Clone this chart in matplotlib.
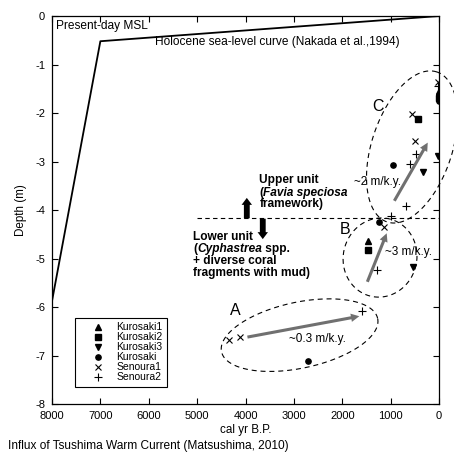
import numpy as np
import matplotlib
matplotlib.use('Agg')
import matplotlib.pyplot as plt

plt.rcParams['font.family'] = ['Liberation Sans', 'DejaVu Sans']

# Holocene sea-level curve (Nakada et al., 1994)
sl_age = [8000, 7000, 0]
sl_depth = [-5.88, -0.52, 0.0]

# samples: (cal yr B.P., depth m)
kurosaki1_age = [1460, 10]
kurosaki1_depth = [-4.64, -1.55]
kurosaki2_age = [428, 1460, 10]
kurosaki2_depth = [-2.12, -4.82, -1.70]
kurosaki3_age = [20, 337, 543]
kurosaki3_depth = [-2.88, -3.21, -5.18]
kurosaki_age = [944, 1233, 2713, 10, 10]
kurosaki_depth = [-3.07, -4.24, -7.11, -1.63, -1.75]
senoura1_age = [4339, 4112, 1130, 550, 496, 20]
senoura1_depth = [-6.67, -6.61, -4.34, -2.03, -2.58, -1.36]
senoura2_age = [1597, 1275, 998, 682, 600, 481, 20]
senoura2_depth = [-6.08, -5.24, -4.12, -3.91, -3.05, -2.85, -1.44]

# uplift-rate arrows: start, end, label, label position
rate_start = [(3960, -6.62), (1481, -5.48), (923, -3.81)]
rate_end = [(1647, -6.19), (1081, -4.48), (233, -2.61)]
rate_label = ['~0.3 m/k.y.', '~3 m/k.y.', '~2 m/k.y.']
rate_label_pos = [(2521, -6.65), (626, -4.86), (1270, -3.42)]

# groups A, B, C: centre, semi-axes (kyr ~ m on screen), tilt
group_name = ['A', 'B', 'C']
group_center = [(2882, -6.58), (1219, -4.98), (558, -2.70)]
group_axes = [(1.65, 0.68), (0.82, 0.76), (1.63, 0.83)]
group_angle = [12, 75, 71.6]
group_label_pos = [(4215, -6.08), (1942, -4.41), (1260, -1.86)]

unit_boundary = -4.17

fig = plt.figure(figsize=(4.54, 4.63), dpi=100)
ax = fig.add_axes([0.1145, 0.1274, 0.8525, 0.838])

ax.plot(sl_age, sl_depth, color='black', lw=1.3)

ms = 4.3
ax.plot(kurosaki1_age, kurosaki1_depth, '^', color='black', ms=ms, label='Kurosaki1')
ax.plot(kurosaki2_age, kurosaki2_depth, 's', color='black', ms=ms - 0.4, label='Kurosaki2')
ax.plot(kurosaki3_age, kurosaki3_depth, 'v', color='black', ms=ms, label='Kurosaki3')
ax.plot(kurosaki_age, kurosaki_depth, 'o', color='black', ms=ms - 0.5, label='Kurosaki')
ax.plot(senoura1_age, senoura1_depth, 'x', color='black', ms=ms, mew=0.8, label='Senoura1')
ax.plot(senoura2_age, senoura2_depth, '+', color='black', ms=ms + 1, mew=0.8, label='Senoura2')

# dashed ellipses around groups
t = np.linspace(0, 2 * np.pi, 200)
for (cx, cy), (a, b), ang, name, (lx, ly) in zip(group_center, group_axes, group_angle,
                                                 group_name, group_label_pos):
    th = np.radians(ang)
    dx = a * np.cos(t) * np.cos(th) - b * np.sin(t) * np.sin(th)
    dy = a * np.cos(t) * np.sin(th) + b * np.sin(t) * np.cos(th)
    ax.plot(cx - dx * 1000, cy + dy, color='black', lw=0.8, ls=(0, (4.5, 3.5)), clip_on=False)
    ax.text(lx, ly, name, fontsize=11.5, ha='center', va='center')

for s, e, lab, (lx, ly) in zip(rate_start, rate_end, rate_label, rate_label_pos):
    ax.annotate('', xy=e, xytext=s,
                arrowprops=dict(arrowstyle='simple,head_length=0.6,head_width=0.6,tail_width=0.22',
                                mutation_scale=10, color='#707070', lw=0, shrinkA=0, shrinkB=0))
    ax.text(lx, ly, lab, fontsize=8.5, ha='center', va='center')

# unit boundary
ax.plot([5000, 0], [unit_boundary, unit_boundary], color='black', lw=0.8, ls=(0, (4, 3)))
blk = 'simple,head_length=0.5,head_width=0.75,tail_width=0.42'
ax.annotate('', xy=(3973, -3.75), xytext=(3973, unit_boundary),
            arrowprops=dict(arrowstyle=blk, mutation_scale=10, color='black', lw=0,
                            shrinkA=0, shrinkB=0))
ax.annotate('', xy=(3643, -4.60), xytext=(3643, unit_boundary - 0.01),
            arrowprops=dict(arrowstyle=blk, mutation_scale=10, color='black', lw=0,
                            shrinkA=0, shrinkB=0))


def rich_line(x, y, parts, size=8.6):
    prev = None
    for txt, style in parts:
        kw = dict(fontsize=size, fontweight='bold', fontstyle=style)
        if prev is None:
            prev = ax.text(x, y, txt, ha='left', va='center', **kw)
        else:
            prev = ax.annotate(txt, xy=(1, 0), xycoords=prev, ha='left', va='bottom', **kw)


rich_line(3713, -3.38, [('Upper unit', 'normal')])
rich_line(3713, -3.64, [('(', 'normal'), ('Favia speciosa', 'italic')])
rich_line(3713, -3.88, [('framework)', 'normal')])
rich_line(5076, -4.55, [('Lower unit', 'normal')])
rich_line(5076, -4.81, [('(', 'normal'), ('Cyphastrea', 'italic'), (' spp.', 'normal')])
rich_line(5076, -5.05, [('+ diverse coral', 'normal')])
rich_line(5076, -5.29, [('fragments with mud)', 'normal')])

ax.text(7920, -0.2, 'Present-day MSL', fontsize=8.6, ha='left', va='center')
ax.text(5880, -0.53, 'Holocene sea-level curve (Nakada et al.,1994)', fontsize=8.6,
        ha='left', va='center')

ax.set_xlim(8000, 0)
ax.set_ylim(-8, 0)
ax.set_xticks(np.arange(8000, -1, -1000))
ax.set_yticks(np.arange(-8, 0.1, 1))
ax.set_yticklabels(['%d' % v for v in np.arange(-8, 1, 1)])
ax.tick_params(direction='in', top=True, right=True, length=4.5, width=0.8,
               labelsize=8, pad=5)
for sp in ax.spines.values():
    sp.set_linewidth(0.9)
ax.set_xlabel('cal yr B.P.', fontsize=8.4, labelpad=2)
ax.set_ylabel('Depth (m)', fontsize=8.4, labelpad=6)

leg = ax.legend(loc='lower left', bbox_to_anchor=(0.0594, 0.0438), borderaxespad=0,
                fontsize=7.5, frameon=True, fancybox=False, edgecolor='black',
                framealpha=1, labelspacing=0.0, handlelength=3.6, handletextpad=-0.1,
                borderpad=0.45, numpoints=1, handleheight=0.6)
leg.get_frame().set_linewidth(0.8)

fig.text(0.018, 0.037, 'Influx of Tsushima Warm Current (Matsushima, 2010)', fontsize=8.6,
         ha='left', va='center')

fig.savefig('out.png', dpi=100)
